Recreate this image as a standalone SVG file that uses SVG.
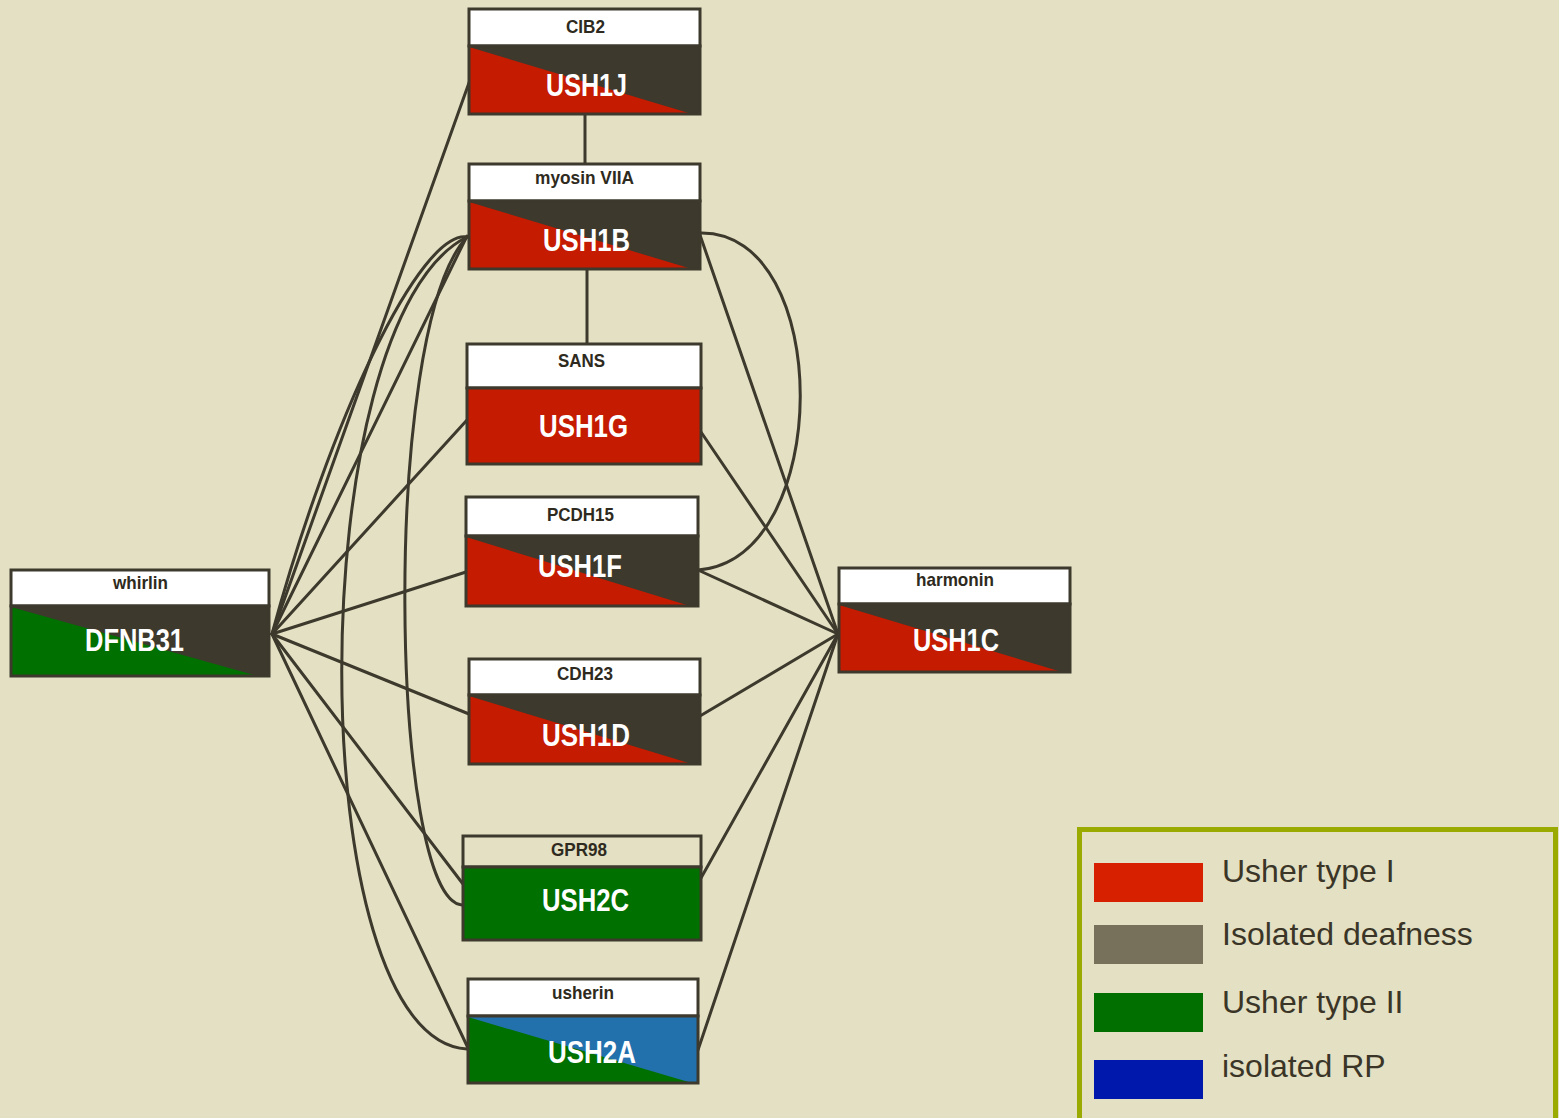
<svg xmlns="http://www.w3.org/2000/svg" width="1559" height="1118" viewBox="0 0 1559 1118">
  <style>
    .edge { fill: none; stroke: #3d392c; stroke-width: 3; stroke-linecap: round; }
    .head { fill: #ffffff; stroke: #3d392c; stroke-width: 3; }
    .head-plain { fill: #e3e0c3; stroke: #3d392c; stroke-width: 3; }
    .body { fill: #3d392c; }
    .frame { fill: none; stroke: #3d392c; stroke-width: 3; }
    .red { fill: #c51b00; }
    .green { fill: #007000; }
    .blue { fill: #2271ad; }
    .hlabel { font-family: "Liberation Sans Narrow", "Liberation Sans", Arial, sans-serif; font-weight: bold; font-size: 19px; fill: #2e2a20; }
    .blabel { font-family: "Liberation Sans Narrow", "Liberation Sans", Arial, sans-serif; font-weight: bold; font-size: 31px; fill: #ffffff; }
    .legend-text { font-family: "Liberation Sans", Arial, sans-serif; font-size: 32px; fill: #3a3527; }
  </style>

  <rect width="1559" height="1118" fill="#e3e0c3"/>

  <!-- interaction lines -->
  <g id="connectors">
    <line class="edge" x1="585" y1="115" x2="585" y2="164"/>
    <line class="edge" x1="587" y1="270" x2="587" y2="344"/>
    <!-- whirlin partners -->
    <line class="edge" x1="272" y1="634" x2="470" y2="80"/>
    <line class="edge" x1="272" y1="634" x2="467" y2="236"/>
    <line class="edge" x1="272" y1="634" x2="467" y2="420"/>
    <line class="edge" x1="272" y1="634" x2="466" y2="572"/>
    <line class="edge" x1="272" y1="634" x2="469" y2="714"/>
    <line class="edge" x1="272" y1="634" x2="463" y2="884"/>
    <line class="edge" x1="272" y1="634" x2="468" y2="1048"/>
    <!-- myosin VIIA curved links -->
    <path class="edge" d="M467,237 C420,230 330,420 272,634"/>
    <path class="edge" d="M467,237 C380,330 390,900 462,905"/>
    <path class="edge" d="M467,237 C300,320 300,1040 467,1049"/>
    <path class="edge" d="M700,233 C834,230 834,560 698,570"/>
    <!-- harmonin partners -->
    <line class="edge" x1="838" y1="634" x2="700" y2="235"/>
    <line class="edge" x1="838" y1="634" x2="701" y2="432"/>
    <line class="edge" x1="838" y1="634" x2="698" y2="570"/>
    <line class="edge" x1="838" y1="634" x2="700" y2="716"/>
    <line class="edge" x1="838" y1="634" x2="701" y2="878"/>
    <line class="edge" x1="838" y1="634" x2="698" y2="1050"/>
  </g>

  <g id="node-ush1j">
    <rect class="head" x="469" y="9" width="231" height="37"/>
    <rect class="body" x="469" y="46" width="231" height="68"/>
    <polygon class="red" points="469,47 469,114 692,114"/>
    <rect class="frame" x="469" y="46" width="231" height="68"/>
    <text class="hlabel" x="566" y="33" textLength="39" lengthAdjust="spacingAndGlyphs">CIB2</text>
    <text class="blabel" x="546" y="96" textLength="81" lengthAdjust="spacingAndGlyphs">USH1J</text>
  </g>

  <g id="node-ush1b">
    <rect class="head" x="469" y="164" width="231" height="37"/>
    <rect class="body" x="469" y="201" width="231" height="68"/>
    <polygon class="red" points="469,202 469,269 692,269"/>
    <rect class="frame" x="469" y="201" width="231" height="68"/>
    <text class="hlabel" x="535" y="184" textLength="99" lengthAdjust="spacingAndGlyphs">myosin VIIA</text>
    <text class="blabel" x="543" y="251" textLength="87" lengthAdjust="spacingAndGlyphs">USH1B</text>
  </g>

  <g id="node-ush1g">
    <rect class="head" x="467" y="344" width="234" height="44"/>
    <rect class="red" x="467" y="388" width="234" height="76"/>
    <rect class="frame" x="467" y="388" width="234" height="76"/>
    <text class="hlabel" x="558" y="367" textLength="47" lengthAdjust="spacingAndGlyphs">SANS</text>
    <text class="blabel" x="539" y="437" textLength="89" lengthAdjust="spacingAndGlyphs">USH1G</text>
  </g>

  <g id="node-ush1f">
    <rect class="head" x="466" y="497" width="232" height="39"/>
    <rect class="body" x="466" y="536" width="232" height="70"/>
    <polygon class="red" points="466,537 466,606 690,606"/>
    <rect class="frame" x="466" y="536" width="232" height="70"/>
    <text class="hlabel" x="547" y="521" textLength="67" lengthAdjust="spacingAndGlyphs">PCDH15</text>
    <text class="blabel" x="538" y="577" textLength="84" lengthAdjust="spacingAndGlyphs">USH1F</text>
  </g>

  <g id="node-ush1d">
    <rect class="head" x="469" y="659" width="231" height="36"/>
    <rect class="body" x="469" y="695" width="231" height="69"/>
    <polygon class="red" points="469,696 469,764 692,764"/>
    <rect class="frame" x="469" y="695" width="231" height="69"/>
    <text class="hlabel" x="557" y="680" textLength="56" lengthAdjust="spacingAndGlyphs">CDH23</text>
    <text class="blabel" x="542" y="746" textLength="88" lengthAdjust="spacingAndGlyphs">USH1D</text>
  </g>

  <g id="node-ush2c">
    <rect class="head-plain" x="463" y="836" width="238" height="31"/>
    <rect class="green" x="463" y="867" width="238" height="73"/>
    <rect class="frame" x="463" y="867" width="238" height="73"/>
    <text class="hlabel" x="551" y="856" textLength="56" lengthAdjust="spacingAndGlyphs">GPR98</text>
    <text class="blabel" x="542" y="911" textLength="87" lengthAdjust="spacingAndGlyphs">USH2C</text>
  </g>

  <g id="node-ush2a">
    <rect class="head" x="468" y="979" width="230" height="37"/>
    <rect class="blue" x="468" y="1016" width="230" height="67"/>
    <polygon class="green" points="468,1017 468,1083 692,1083"/>
    <rect class="frame" x="468" y="1016" width="230" height="67"/>
    <text class="hlabel" x="552" y="999" textLength="62" lengthAdjust="spacingAndGlyphs">usherin</text>
    <text class="blabel" x="548" y="1063" textLength="88" lengthAdjust="spacingAndGlyphs">USH2A</text>
  </g>

  <g id="node-dfnb31">
    <rect class="head" x="11" y="570" width="258" height="36"/>
    <rect class="body" x="11" y="606" width="258" height="70"/>
    <polygon class="green" points="11,607 11,676 258,676"/>
    <rect class="frame" x="11" y="606" width="258" height="70"/>
    <text class="hlabel" x="113" y="589" textLength="55" lengthAdjust="spacingAndGlyphs">whirlin</text>
    <text class="blabel" x="85" y="651" textLength="99" lengthAdjust="spacingAndGlyphs">DFNB31</text>
  </g>

  <g id="node-ush1c">
    <rect class="head" x="839" y="568" width="231" height="36"/>
    <rect class="body" x="839" y="604" width="231" height="68"/>
    <polygon class="red" points="839,605 839,672 1062,672"/>
    <rect class="frame" x="839" y="604" width="231" height="68"/>
    <text class="hlabel" x="916" y="586" textLength="78" lengthAdjust="spacingAndGlyphs">harmonin</text>
    <text class="blabel" x="913" y="651" textLength="86" lengthAdjust="spacingAndGlyphs">USH1C</text>
  </g>

  <g id="legend">
    <rect x="1079.5" y="829.5" width="476" height="300" fill="none" stroke="#9aaa00" stroke-width="5"/>
    <rect x="1094" y="863" width="109" height="39" fill="#d62000"/>
    <rect x="1094" y="925" width="109" height="39" fill="#77705a"/>
    <rect x="1094" y="993" width="109" height="39" fill="#006f00"/>
    <rect x="1094" y="1060" width="109" height="39" fill="#0019ac"/>
    <text class="legend-text" x="1222" y="882">Usher type I</text>
    <text class="legend-text" x="1222" y="945">Isolated deafness</text>
    <text class="legend-text" x="1222" y="1013">Usher type II</text>
    <text class="legend-text" x="1222" y="1077">isolated RP</text>
  </g>
</svg>
